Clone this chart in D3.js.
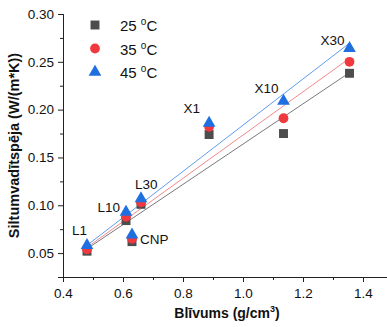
<!DOCTYPE html>
<html>
<head>
<meta charset="utf-8">
<script src="https://cdn.jsdelivr.net/npm/d3@7"></script>
<style>
  body { margin: 0; background: #fff; }
  svg { font-family: Arial, "Liberation Sans", sans-serif; }
</style>
</head>
<body>
<svg width="387" height="327"></svg>
<script>
// samples and their density (g/cm3)
const samples = ['L1', 'L10', 'CNP', 'L30', 'X1', 'X10', 'X30'];
const density = [0.48, 0.61, 0.63, 0.66, 0.887, 1.135, 1.355];

// thermal conductivity W/(m*K) per temperature
const temps = ['25', '35', '45'];
const k25 = [0.052, 0.084, 0.062, 0.101, 0.174, 0.175, 0.238];
const k35 = [0.054, 0.088, 0.065, 0.103, 0.182, 0.191, 0.250];
const k45 = [0.058, 0.093, 0.069, 0.107, 0.186, 0.209, 0.264];

const xTicks = [0.4, 0.6, 0.8, 1.0, 1.2, 1.4];
const yTicks = [0.05, 0.10, 0.15, 0.20, 0.25, 0.30];

const svg = d3.select('svg');
const margin = { top: 14, left: 63, bottom: 50 };
const height = 327;

const x = d3.scaleLinear().domain([0.4, 1.5]).range([margin.left, margin.left + 330]);
const y = d3.scaleLinear().domain([0.025, 0.30]).range([height - margin.bottom, margin.top]);

const series = [
  { t: temps[0], vals: k25, fill: '#4d4d4d', line: '#7a7a7a', shape: d3.symbolSquare, size: 80 },
  { t: temps[1], vals: k35, fill: '#f0393e', line: '#f28a8c', shape: d3.symbolCircle, size: 75 },
  { t: temps[2], vals: k45, fill: '#1f6fe0', line: '#5f9cf0', shape: d3.symbolTriangle, size: 70 }
];

// axes
const xAxis = svg.append('g').attr('transform', `translate(0,${y.range()[0]})`);
xAxis.call(d3.axisBottom(x).tickValues(xTicks).tickFormat(d3.format('.1f')).tickSize(5).tickPadding(6));
xAxis.append('g').call(d3.axisBottom(x).tickValues(d3.range(0.5, 1.5, 0.2)).tickSize(3).tickFormat(''));

const yAxis = svg.append('g').attr('transform', `translate(${margin.left},0)`);
yAxis.call(d3.axisLeft(y).tickValues(yTicks).tickFormat(d3.format('.2f')).tickSize(5).tickPadding(4));
yAxis.append('g').call(d3.axisLeft(y).tickValues([0.025, 0.075, 0.125, 0.175, 0.225, 0.275]).tickSize(3).tickFormat(''));

svg.selectAll('.domain').attr('stroke', '#222');
svg.selectAll('.tick line').attr('stroke', '#222');
svg.selectAll('.tick text').attr('font-size', 13.5).attr('fill', '#111').attr('font-family', 'Arial, "Liberation Sans", sans-serif');

// linear fit lines
series.forEach(s => {
  const mx = d3.mean(density), my = d3.mean(s.vals);
  const sxy = d3.sum(density, (d, i) => (d - mx) * (s.vals[i] - my));
  const sxx = d3.sum(density, d => (d - mx) * (d - mx));
  const b = sxy / sxx, a = my - b * mx;
  const x0 = d3.min(density), x1 = d3.max(density);
  svg.append('line')
    .attr('x1', x(x0)).attr('y1', y(a + b * x0))
    .attr('x2', x(x1)).attr('y2', y(a + b * x1))
    .attr('stroke', s.line).attr('stroke-width', 1);
});

// points
series.forEach(s => {
  svg.append('g').selectAll('path')
    .data(s.vals)
    .enter()
    .append('path')
    .attr('d', d3.symbol().type(s.shape).size(s.size))
    .attr('transform', (d, i) => `translate(${x(density[i])},${y(d)})`)
    .attr('fill', s.fill);
});

// sample labels, offsets relative to the 45 oC marker
const labelPos = {
  L1: [0, -10, 'end'], L10: [-6, 0, 'end'], CNP: [8, 9, 'start'], L30: [-6, -10, 'start'],
  X1: [-9, -10, 'end'], X10: [-5, -8, 'end'], X30: [-5, -3.5, 'end']
};
svg.append('g').selectAll('text')
  .data(samples)
  .enter()
  .append('text')
  .attr('x', (d, i) => x(density[i]) + labelPos[d][0])
  .attr('y', (d, i) => y(k45[i]) + labelPos[d][1])
  .attr('text-anchor', d => labelPos[d][2])
  .attr('font-size', 13.5)
  .attr('fill', '#111')
  .text(d => d);

// legend
const legend = svg.append('g').attr('transform', 'translate(95,25)');
series.forEach((s, i) => {
  const g = legend.append('g').attr('transform', `translate(0,${i * 23.5})`);
  g.append('path').attr('d', d3.symbol().type(s.shape).size(s.size)).attr('fill', s.fill);
  const t = g.append('text').attr('x', 25).attr('y', 6).attr('font-size', 15).attr('fill', '#111');
  t.append('tspan').text(s.t + ' ');
  t.append('tspan').attr('font-size', 10).attr('dy', -6).text('o');
  t.append('tspan').attr('dy', 6).text('C');
});

// axis titles
svg.append('text')
  .attr('x', 227).attr('y', 318)
  .attr('text-anchor', 'middle')
  .attr('font-size', 14).attr('font-weight', 'bold').attr('fill', '#111')
  .call(t => {
    t.append('tspan').text('Blīvums (g/cm');
    t.append('tspan').attr('font-size', 9).attr('dy', -6).text('3');
    t.append('tspan').attr('dy', 6).text(')');
  });

svg.append('text')
  .attr('transform', `translate(19,${(y.range()[0] + y.range()[1]) / 2}) rotate(-90)`)
  .attr('text-anchor', 'middle')
  .attr('font-size', 14.5).attr('font-weight', 'bold').attr('fill', '#111')
  .text('Siltumvadītspēja (W/(m*K))');
</script>
</body>
</html>
